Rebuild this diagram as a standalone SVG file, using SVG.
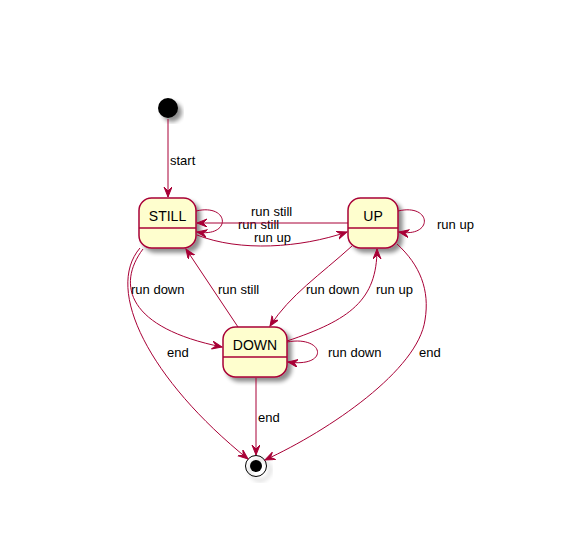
<svg xmlns="http://www.w3.org/2000/svg" width="570" height="541" viewBox="0 0 570 541">
<style>
.st{fill:#FEFECE;stroke:#A80036;stroke-width:1.5}
.e{fill:none;stroke:#A80036;stroke-width:1;marker-end:url(#ah)}
.t{font-family:"Liberation Sans",Arial,sans-serif;font-size:14px;fill:#000}
.l{font-family:"Liberation Sans",Arial,sans-serif;font-size:13px;fill:#000}
</style>
<defs>
<filter id="sh" x="-30%" y="-30%" width="160%" height="160%">
<feGaussianBlur in="SourceAlpha" stdDeviation="2"/>
<feOffset dx="4" dy="4" result="b"/>
<feComponentTransfer><feFuncA type="linear" slope="0.45"/></feComponentTransfer>
<feMerge><feMergeNode/><feMergeNode in="SourceGraphic"/></feMerge>
</filter>
<marker id="ah" markerWidth="12" markerHeight="10" refX="10" refY="4" orient="auto" markerUnits="userSpaceOnUse">
<path d="M0,0 L10,4 L0,8 L4,4 Z" fill="#A80036" stroke="#A80036" stroke-width="1"/>
</marker>
</defs>
<rect width="570" height="541" fill="#fff"/>
<g id="start">
<circle cx="168" cy="108" r="10" fill="#000" filter="url(#sh)"/>
</g>
<g id="STILL">
<rect class="st" x="139" y="198" width="57" height="50" rx="12.5" filter="url(#sh)"/>
<line x1="139" y1="228" x2="196" y2="228" stroke="#A80036" stroke-width="1.5"/>
<text class="t" x="167.5" y="221" text-anchor="middle">STILL</text>
</g>
<g id="UP">
<rect class="st" x="348" y="198" width="50" height="50" rx="12.5" filter="url(#sh)"/>
<line x1="348" y1="228" x2="398" y2="228" stroke="#A80036" stroke-width="1.5"/>
<text class="t" x="373" y="221" text-anchor="middle">UP</text>
</g>
<g id="DOWN">
<rect class="st" x="223" y="327" width="64" height="50" rx="12.5" filter="url(#sh)"/>
<line x1="223" y1="357" x2="287" y2="357" stroke="#A80036" stroke-width="1.5"/>
<text class="t" x="255" y="350" text-anchor="middle">DOWN</text>
</g>
<g id="end">
<circle cx="256" cy="466" r="10.5" fill="none" stroke="#000" stroke-width="1" filter="url(#sh)"/>
<circle cx="256" cy="466" r="6" fill="#000"/>
</g>
<g id="connectors">
<path class="e" d="M168,119 L168,197"/>
<text class="l" x="170" y="165">start</text>
<path class="e" d="M196,211 C230,203 232,238 197,232"/>
<text class="l" x="238" y="229">run still</text>
<path class="e" d="M348,223 L197,223"/>
<text class="l" x="251" y="216">run still</text>
<path class="e" d="M197,235 C240,252 300,248 347,232"/>
<text class="l" x="254" y="242">run up</text>
<path class="e" d="M398,211 C432,203 434,238 399,232"/>
<text class="l" x="437" y="229">run up</text>
<path class="e" d="M143,249 C116,285 128,328 222,347"/>
<text class="l" x="131" y="294">run down</text>
<path class="e" d="M140,248 C104,290 150,380 248,459"/>
<text class="l" x="167" y="357">end</text>
<path class="e" d="M238,327 L186,249"/>
<text class="l" x="218" y="294">run still</text>
<path class="e" d="M352,246 C320,275 290,295 270,326"/>
<text class="l" x="306" y="294">run down</text>
<path class="e" d="M287,341 C350,320 377,300 377,249"/>
<text class="l" x="376" y="294">run up</text>
<path class="e" d="M287,342 C325,335 330,368 288,362"/>
<text class="l" x="328" y="357">run down</text>
<path class="e" d="M397,244 C420,265 430,290 425,320 C418,370 330,430 265,460"/>
<text class="l" x="419" y="357">end</text>
<path class="e" d="M256,378 L256,455"/>
<text class="l" x="258" y="422">end</text>
</g>
</svg>
